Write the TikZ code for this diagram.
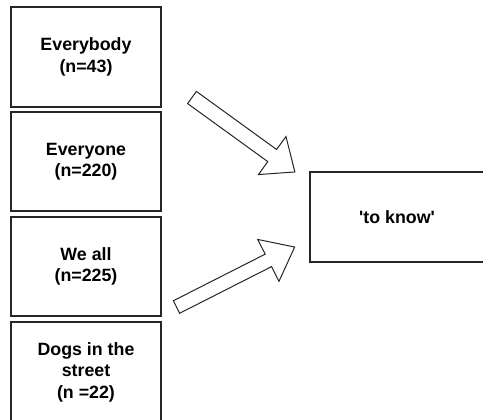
\documentclass[tikz,border=0pt]{standalone}
\usepackage{fontspec}
\setmainfont{Liberation Sans}
\begin{document}
\begin{tikzpicture}[x=1pt,y=1pt,
  label font/.style={font=\fontsize{17.8}{21.5}\selectfont\bfseries},
  box/.style={draw=black!85, line width=1.1pt, minimum width=150pt, align=center,
    inner sep=0pt, label font},
  blockarrow/.style={draw=black!85, line width=1pt, line join=miter, fill=white}]
\useasboundingbox (0,0) rectangle (483,-420);

% source boxes
\node[box, minimum height=100pt] (everybody) at (86,-57) {Everybody\\(n=43)};
\node[box, minimum height=99pt] (everyone) at (86,-161.5) {Everyone\\(n=220)};
\node[box, minimum height=99pt] (weall) at (86,-266.5) {We all\\(n=225)};
\node[box, minimum height=100pt] (dogs) at (86,-372) {Dogs in the\\street\\(n =22)};

% target box (runs past the right margin) and its text
\node[box, minimum width=190pt, minimum height=90pt] (know) at (405,-217) {};
\node[label font, inner sep=0pt] (knowtext) at ([xshift=-8pt]know.center) {\textquotesingle to know\textquotesingle};

% block arrows
\coordinate (a1s) at (192,-97.5);
\coordinate (a2s) at (176.5,-307);
\begin{scope}[shift={(a1s)}, rotate=-35.9]
  \draw[blockarrow] (0,-7.5) -- (99,-7.5) -- (99,-23.5) -- (127,0) -- (99,23.5) -- (99,7.5) -- (0,7.5) -- cycle;
\end{scope}
\begin{scope}[shift={(a2s)}, rotate=26.9]
  \draw[blockarrow] (0,-7) -- (103,-7) -- (103,-23.5) -- (132.5,0) -- (103,23.5) -- (103,7) -- (0,7) -- cycle;
\end{scope}
\end{tikzpicture}
\end{document}
